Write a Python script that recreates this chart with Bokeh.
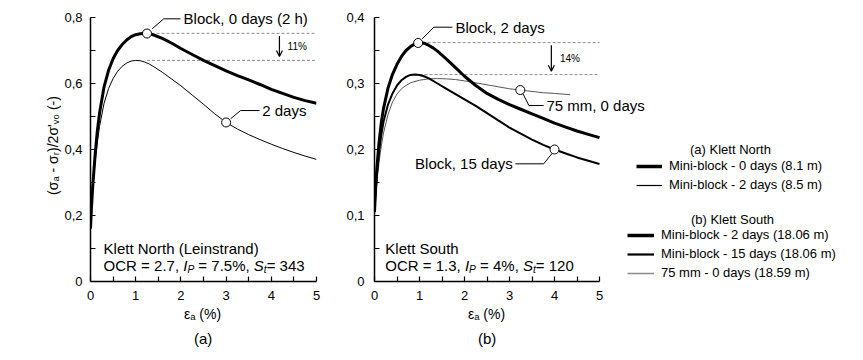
import numpy as np
from bokeh.plotting import figure
from bokeh.layouts import row
from bokeh.models import (FixedTicker, Title, Legend, LegendItem, Label, Arrow,
                          OpenHead, Range1d)
from bokeh.embed import file_html
from bokeh.resources import INLINE
from bokeh.core.properties import value

FONT = "Liberation Sans"

# ---------------- data ----------------
# (a) Klett North
a_block0_x = [0.0, 0.02, 0.05, 0.1, 0.15, 0.2, 0.3, 0.4, 0.5, 0.6, 0.7, 0.8, 0.9, 1.0, 1.1, 1.2, 1.3,
              1.4, 1.6, 1.8, 2.0, 2.25, 2.5, 2.75, 3.0, 3.25, 3.5, 3.75, 4.0, 4.25, 4.5, 4.75, 5.0]
a_block0_y = [0.16, 0.22, 0.29, 0.38, 0.455, 0.51, 0.59, 0.64, 0.675, 0.70, 0.718, 0.732, 0.742, 0.748,
              0.751, 0.752, 0.751, 0.747, 0.736, 0.722, 0.706, 0.688, 0.670, 0.654, 0.638, 0.624, 0.611,
              0.597, 0.582, 0.570, 0.558, 0.548, 0.540]
a_block2_x = [0.0, 0.05, 0.1, 0.15, 0.2, 0.3, 0.4, 0.5, 0.6, 0.7, 0.8, 0.9, 1.0, 1.1, 1.2, 1.3, 1.4,
              1.6, 1.8, 2.0, 2.25, 2.5, 2.75, 3.0, 3.25, 3.5, 3.75, 4.0, 4.25, 4.5, 4.75, 5.0]
a_block2_y = [0.18, 0.28, 0.36, 0.42, 0.47, 0.54, 0.585, 0.615, 0.637, 0.652, 0.662, 0.668, 0.670,
              0.669, 0.665, 0.659, 0.651, 0.633, 0.613, 0.593, 0.565, 0.537, 0.508, 0.482, 0.462,
              0.445, 0.430, 0.416, 0.403, 0.391, 0.380, 0.370]

# (b) Klett South
b_block2_x = [0.0, 0.02, 0.05, 0.1, 0.15, 0.2, 0.3, 0.4, 0.5, 0.6, 0.7, 0.8, 0.9, 1.0, 1.1, 1.2, 1.3,
              1.4, 1.6, 1.8, 2.0, 2.25, 2.5, 2.75, 3.0, 3.25, 3.5, 3.75, 4.0, 4.25, 4.5, 4.75, 5.0]
b_block2_y = [0.105, 0.135, 0.17, 0.21, 0.24, 0.262, 0.293, 0.314, 0.329, 0.341, 0.350, 0.356, 0.360,
              0.362, 0.361, 0.358, 0.354, 0.349, 0.337, 0.324, 0.311, 0.297, 0.285, 0.276, 0.268,
              0.261, 0.254, 0.247, 0.240, 0.234, 0.228, 0.223, 0.218]
b_block15_x = [0.0, 0.05, 0.1, 0.15, 0.2, 0.3, 0.4, 0.5, 0.6, 0.7, 0.8, 0.9, 1.0, 1.1, 1.2, 1.4, 1.6,
               1.8, 2.0, 2.25, 2.5, 2.75, 3.0, 3.25, 3.5, 3.75, 4.0, 4.25, 4.5, 4.75, 5.0]
b_block15_y = [0.11, 0.16, 0.195, 0.222, 0.242, 0.268, 0.285, 0.297, 0.305, 0.310, 0.313, 0.3135,
               0.313, 0.311, 0.308, 0.300, 0.292, 0.284, 0.276, 0.266, 0.255, 0.244, 0.233, 0.224,
               0.215, 0.207, 0.200, 0.194, 0.188, 0.183, 0.178]
b_75mm_x = [0.0, 0.05, 0.1, 0.15, 0.2, 0.3, 0.4, 0.5, 0.6, 0.7, 0.8, 0.9, 1.0, 1.2, 1.4, 1.6, 1.8,
            2.0, 2.25, 2.5, 2.75, 3.0, 3.25, 3.5, 3.75, 4.0, 4.35]
b_75mm_y = [0.11, 0.15, 0.18, 0.205, 0.225, 0.253, 0.272, 0.284, 0.292, 0.297, 0.301, 0.303, 0.305,
            0.307, 0.3075, 0.307, 0.306, 0.304, 0.301, 0.298, 0.295, 0.292, 0.290, 0.288, 0.286,
            0.285, 0.283]

# ticks
x_ticks = [0, 1, 2, 3, 4, 5]
x_tick_labels = ["0", "1", "2", "3", "4", "5"]
x_minor = [0.5, 1.5, 2.5, 3.5, 4.5]
ya_ticks = [0, 0.2, 0.4, 0.6, 0.8]
ya_tick_labels = ["0", "0,2", "0,4", "0,6", "0,8"]
ya_minor = [0.1, 0.3, 0.5, 0.7]
yb_ticks = [0, 0.1, 0.2, 0.3, 0.4]
yb_tick_labels = ["0", "0,1", "0,2", "0,3", "0,4"]
yb_minor = [0.05, 0.15, 0.25, 0.35]
x_label = "\u03b5\u2090 (%)"
y_label = "(\u03c3\u2090 - \u03c3\u1d63)/2\u03c3'\u1d65\u2080 (-)"

# legend labels
leg_a_title = "(a) Klett North"
leg_a_labels = ["Mini-block - 0 days (8.1 m)", "Mini-block - 2 days (8.5 m)"]
leg_b_title = "(b) Klett South"
leg_b_labels = ["Mini-block - 2 days (18.06 m)", "Mini-block - 15 days (18.06 m)",
                "75 mm - 0 days (18.59 m)"]

# annotation anchors (data units)
a_marker_x = [1.25, 3.0]
a_leader1 = ([1.365, 1.62, 1.99], [0.766, 0.796, 0.796])
a_leader2 = ([3.10, 3.32, 3.74], [0.493, 0.518, 0.518])
b_marker_x = [0.97, 3.24, 4.0]
b_leader1 = ([1.06, 1.32, 1.73], [0.3677, 0.3853, 0.3853])
b_leader2 = ([3.30, 3.43, 3.76], [0.2844, 0.2667, 0.2667])
b_leader3 = ([3.95, 3.76, 3.13], [0.1944, 0.1783, 0.1783])

# ---------------- helpers ----------------
AW = {' ': 278, '%': 889, '(': 333, ')': 333, ',': 278, '-': 333, '.': 278, '=': 584,
      'C': 722, 'I': 278, 'O': 778, 'P': 667, 'R': 722, 'S': 667, 't': 278}
for d in "0123456789":
    AW[d] = 556


def tw(s, size):
    return sum(AW.get(c, 556) for c in s) * size / 1000.0


def rich_text(p, x, y, parts, size=15):
    xs, ys, texts, xo, yo, st, fs = [], [], [], [], [], [], []
    off = 0.0
    for t, style, sub in parts:
        s = size * 0.68 if sub else size
        lead = len(t) - len(t.lstrip(" "))
        off += tw(" " * lead, s)
        core = t.strip(" ")
        xs.append(x); ys.append(y); texts.append(core)
        xo.append(off); yo.append(4 if sub else 0)
        st.append(style); fs.append(f"{s:.1f}px")
        off += tw(t[lead:], s)
    p.text(x=xs, y=ys, text=texts, x_offset=xo, y_offset=yo, text_font_style=st,
           text_font_size=fs, text_font=value(FONT), text_baseline="middle",
           text_align="left", text_color="black")


def ann_text(p, x, y, t, align="left", size="15px"):
    p.add_layout(Label(x=x, y=y, text=t, text_font=FONT, text_font_size=size,
                       text_baseline="middle", text_align=align, text_color="black"))


def style(p, yt, yl, ym, ylabel_standoff, ytop):
    p.xaxis.ticker = FixedTicker(ticks=x_ticks, minor_ticks=x_minor)
    p.xaxis.major_label_overrides = {float(t): l for t, l in zip(x_ticks, x_tick_labels)}
    p.xaxis.bounds = (x_ticks[0], x_ticks[-1])
    p.yaxis.ticker = FixedTicker(ticks=yt, minor_ticks=ym)
    p.yaxis.major_label_overrides = {float(t): l for t, l in zip(yt, yl)}
    p.yaxis.bounds = (0, ytop)
    for ax in p.axis:
        ax.axis_line_width = 1.5
        ax.axis_line_color = "black"
        ax.major_tick_in = 5
        ax.major_tick_out = 0
        ax.minor_tick_in = 5
        ax.minor_tick_out = 0
        ax.major_tick_line_width = 1.2
        ax.minor_tick_line_width = 1.2
        ax.major_tick_line_color = "black"
        ax.minor_tick_line_color = "black"
        ax.major_label_text_font = FONT
        ax.major_label_text_font_size = "13px"
        ax.major_label_text_color = "black"
        ax.axis_label_text_font = FONT
        ax.axis_label_text_font_size = "14px"
        ax.axis_label_text_font_style = "normal"
        ax.axis_label_text_color = "black"
    p.xaxis.major_label_standoff = 9
    p.yaxis.major_label_standoff = ylabel_standoff
    p.yaxis.axis_label_standoff = 0
    p.grid.visible = False
    p.outline_line_color = None
    p.background_fill_color = None
    p.border_fill_color = None


PX_X = 45.0     # pixels per unit strain
PAD_TOP = 8     # pixels of frame above the top tick


def panel(frame_w, left, right, y_top, px_y):
    return figure(output_backend="svg", toolbar_location=None,
                  frame_width=frame_w, frame_height=264 + PAD_TOP,
                  min_border_left=left, min_border_right=right,
                  min_border_top=17 - PAD_TOP, min_border_bottom=71,
                  x_range=Range1d(0, frame_w / PX_X),
                  y_range=Range1d(0, y_top + PAD_TOP / px_y))


def bottom_titles(p, sub, offset):
    # x-axis label and panel tag, centred under the 0..5 strain axis
    p.add_layout(Title(text=x_label, align="left", offset=offset, standoff=3,
                       text_font=FONT, text_font_size="14px", text_font_style="normal",
                       text_color="black"), "below")
    p.add_layout(Title(text=sub, align="left", offset=offset + 10, standoff=8,
                       text_font=FONT, text_font_size="15px", text_font_style="normal",
                       text_color="black"), "below")


# ---------------- panel (a) ----------------
p1 = panel(226, 90, 24, 0.8, 330.0)
p1.x_range = Range1d(0, 5)
p1.yaxis.axis_label = y_label
style(p1, ya_ticks, ya_tick_labels, ya_minor, 8, 0.8)
bottom_titles(p1, "(a)", 5 * PX_X / 2 - 19)

a_peak0 = max(a_block0_y)
a_peak2 = max(a_block2_y)
dash_col = "#8c8c8c"
p1.line([1.35, 5], [a_peak0, a_peak0], line_dash="3 2", line_color=dash_col, line_width=1)
p1.line([1.25, 5], [a_peak2, a_peak2], line_dash="3 2", line_color=dash_col, line_width=1)
p1.add_layout(Arrow(end=OpenHead(size=6, line_width=1.2, line_color="black"),
                    x_start=4.18, y_start=a_peak0 - 0.008, x_end=4.18, y_end=a_peak2 + 0.012,
                    line_width=1.2, line_color="black"))
ann_text(p1, 4.36, (a_peak0 + a_peak2) / 2, "11%", size="10px")

p1.line(a_block0_x, a_block0_y, line_color="black", line_width=3)
p1.line(a_block2_x, a_block2_y, line_color="black", line_width=1)

for lx, ly in (a_leader1, a_leader2):
    p1.line(lx, ly, line_color="black", line_width=1)
a_my = [float(np.interp(a_marker_x[0], a_block0_x, a_block0_y)),
        float(np.interp(a_marker_x[1], a_block2_x, a_block2_y))]
p1.scatter(a_marker_x, a_my, marker="circle", size=9, fill_color="white",
           line_color="black", line_width=1)
ann_text(p1, 2.06, 0.796, "Block, 0 days (2 h)")
ann_text(p1, 3.80, 0.518, "2 days")

ann_text(p1, 0.29, 0.100, "Klett North (Leinstrand)")
rich_text(p1, 0.29, 0.048, [("OCR = 2.7, ", "normal", False), ("I", "italic", False),
                             ("P", "italic", True), (" = 7.5%, ", "normal", False),
                             ("S", "italic", False), ("t", "italic", True),
                             ("= 343", "normal", False)])

# ---------------- panel (b) + legend area ----------------
P2_FRAME = 486
p2 = panel(P2_FRAME, 34, 0, 0.4, 660.0)
style(p2, yb_ticks, yb_tick_labels, yb_minor, 10, 0.4)
bottom_titles(p2, "(b)", 5 * PX_X / 2 - 19)

b_peak2 = max(b_block2_y)
b_peak15 = max(b_block15_y)
p2.line([1.07, 5], [b_peak2, b_peak2], line_dash="3 2", line_color=dash_col, line_width=1)
p2.line([1.0, 5], [b_peak15, b_peak15], line_dash="3 2", line_color=dash_col, line_width=1)
p2.add_layout(Arrow(end=OpenHead(size=6, line_width=1.2, line_color="black"),
                    x_start=3.93, y_start=b_peak2 - 0.004, x_end=3.93, y_end=b_peak15 + 0.005,
                    line_width=1.2, line_color="black"))
ann_text(p2, 4.12, (b_peak2 + b_peak15) / 2, "14%", size="10px")

p2.line(b_75mm_x, b_75mm_y, line_color="#555555", line_width=1)
p2.line(b_block15_x, b_block15_y, line_color="black", line_width=2)
p2.line(b_block2_x, b_block2_y, line_color="black", line_width=3)

for lx, ly in (b_leader1, b_leader2, b_leader3):
    p2.line(lx, ly, line_color="black", line_width=1)
b_my = [float(np.interp(b_marker_x[0], b_block2_x, b_block2_y)),
        float(np.interp(b_marker_x[1], b_75mm_x, b_75mm_y)),
        float(np.interp(b_marker_x[2], b_block15_x, b_block15_y))]
p2.scatter(b_marker_x, b_my, marker="circle", size=9, fill_color="white",
           line_color="black", line_width=1)
ann_text(p2, 1.80, 0.3853, "Block, 2 days")
ann_text(p2, 3.82, 0.2667, "75 mm, 0 days")
ann_text(p2, 3.07, 0.1783, "Block, 15 days", align="right")

ann_text(p2, 0.24, 0.050, "Klett South")
rich_text(p2, 0.24, 0.024, [("OCR = 1.3, ", "normal", False), ("I", "italic", False),
                            ("P", "italic", True), (" = 4%, ", "normal", False),
                            ("S", "italic", False), ("t", "italic", True),
                            ("= 120", "normal", False)])

# legend (renderers kept outside the visible ranges)
off_x = [50, 51]
off_y = [5, 6]
ra1 = p2.line(off_x, off_y, line_color="black", line_width=3.5)
ra2 = p2.line(off_x, off_y, line_color="black", line_width=1.2)
rb1 = p2.line(off_x, off_y, line_color="black", line_width=3.5)
rb2 = p2.line(off_x, off_y, line_color="black", line_width=2.2)
rb3 = p2.line(off_x, off_y, line_color="#8a8a8a", line_width=1.5)


def make_legend(items, loc, gw):
    return Legend(items=items, location=loc, orientation="vertical", glyph_width=gw,
                  glyph_height=14, label_height=14, spacing=4, padding=0, margin=0,
                  label_standoff=7, border_line_color=None, background_fill_alpha=0,
                  label_text_font=FONT, label_text_font_size="13px",
                  label_text_color="black")


p2.add_layout(make_legend([LegendItem(label=l, renderers=[r]) for l, r in
                           zip(leg_a_labels, [ra1, ra2])], (262, 89), 26))
p2.add_layout(make_legend([LegendItem(label=l, renderers=[r]) for l, r in
                           zip(leg_b_labels, [rb1, rb2, rb3])], (253, 1), 27))
for t, x, y in ((leg_a_title, 356, 132), (leg_b_title, 358, 62)):
    p2.add_layout(Label(x=x, y=y, x_units="screen", y_units="screen", text=t,
                        text_align="center", text_baseline="middle", text_font=FONT,
                        text_font_size="13px", text_color="black"))

layout = row(p1, p2)
open("out.html", "w").write(file_html(layout, INLINE))
